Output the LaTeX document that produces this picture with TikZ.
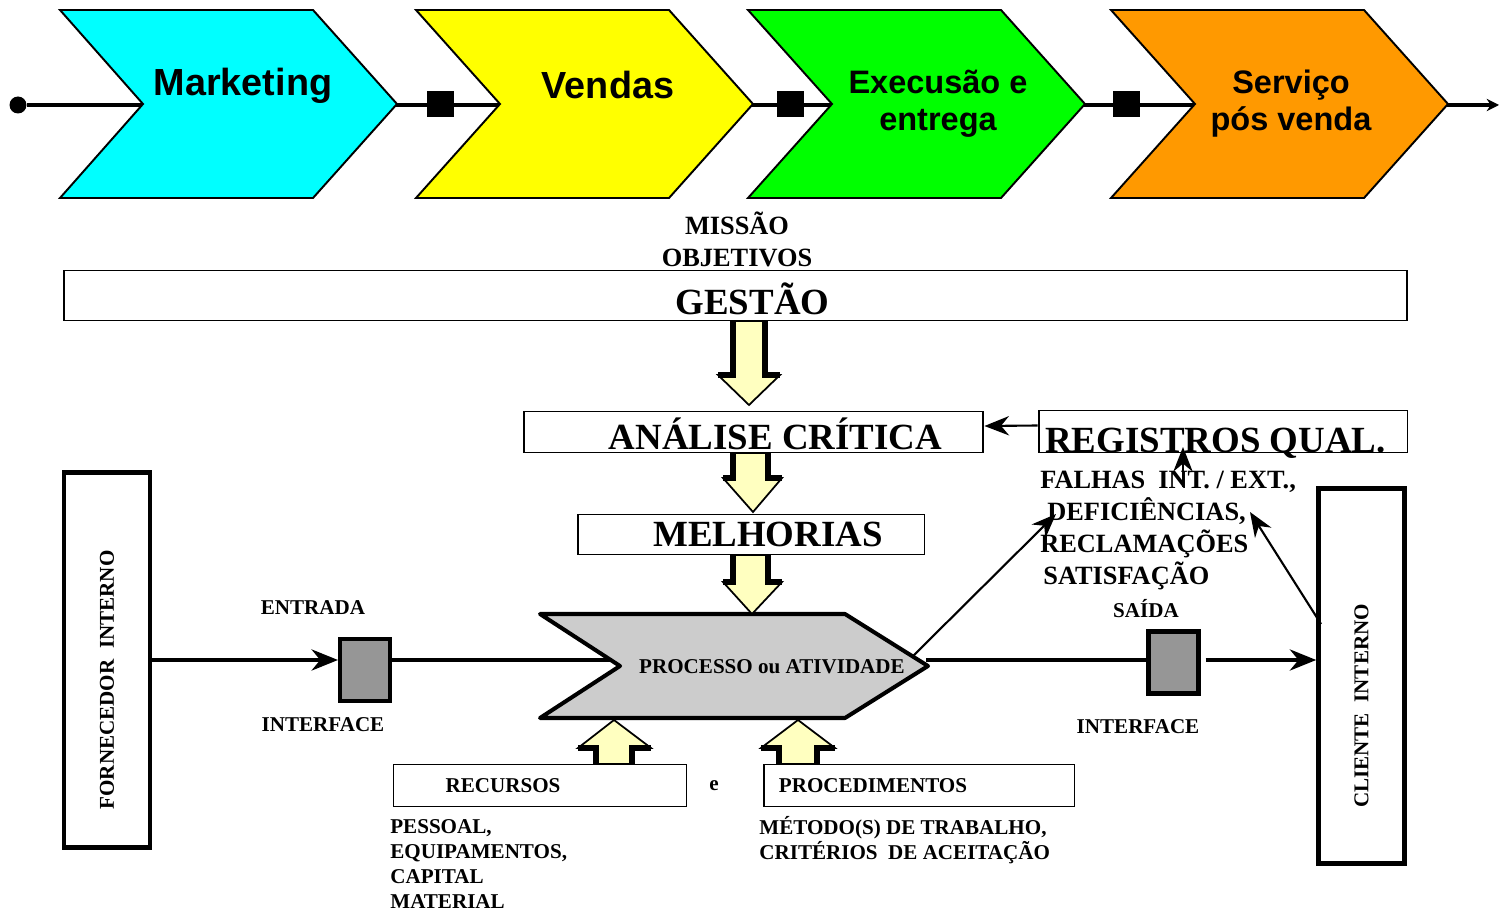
\documentclass[tikz,border=0pt]{standalone}
\usepackage{fontspec}
\setmainfont{Liberation Serif}
\newfontfamily\chevfont{Liberation Sans}
\usetikzlibrary{positioning}
\usetikzlibrary{calc}
\usetikzlibrary{arrows.meta}

\definecolor{chevcyan}{RGB}{0,255,255}
\definecolor{chevyellow}{RGB}{255,255,0}
\definecolor{chevgreen}{RGB}{0,255,0}
\definecolor{chevorange}{RGB}{255,153,0}
\definecolor{paleyellow}{RGB}{255,255,192}
\definecolor{procgray}{RGB}{204,204,204}
\definecolor{ifacegray}{RGB}{150,150,150}

\begin{document}
\begin{tikzpicture}
            [
                x=0.02cm, y=-0.02cm,
                chevron/.style={draw, line width=1.1pt, line join=miter},
                chevtext/.style={font=\chevfont\bfseries\fontsize{21.5}{21}\selectfont, align=center},
                chevsmall/.style={font=\chevfont\bfseries\fontsize{18.5}{21}\selectfont, align=center},
                gate/.style={rectangle, fill=black, minimum size=0.54cm, inner sep=0},
                bigbox/.style={rectangle, draw, line width=1.1pt, inner sep=0, text depth=0cm, font=\bfseries\fontsize{21}{24}\selectfont},
                smallbox/.style={rectangle, draw, line width=1.1pt, inner sep=0, font=\bfseries\fontsize{12}{14}\selectfont},
                sidebox/.style={rectangle, draw, line width=2.6pt, inner sep=0, rotate=90, minimum width=7.5cm, minimum height=1.72cm, font=\bfseries\fontsize{12}{14}\selectfont},
                iface/.style={rectangle, draw, line width=2.3pt, fill=ifacegray, minimum width=1.0cm, minimum height=1.24cm},
                lbl/.style={font=\bfseries\fontsize{12}{14.2}\selectfont, align=left, inner sep=0},
                note/.style={font=\bfseries\fontsize{15}{18.2}\selectfont, align=left, inner sep=0},
                flow/.style={line width=2.3pt, -{Stealth[length=15pt,width=12pt]}},
                conn/.style={line width=1.2pt, -{Stealth[length=14pt,width=11pt]}},
                blockarrow/.style={draw, line width=1pt, fill=paleyellow, line join=miter},
                shoulder/.style={line width=3.5pt}
            ]
            \useasboundingbox (0,0) rectangle (1499,912);
            %value chain
            \node[circle, fill=black, minimum size=0.34cm, inner sep=0] (start) at (18,105) {};
            \coordinate (finish) at (1499,105);
            \draw[line width=2pt, -{Stealth[length=7pt,width=7pt]}] (start) -- (finish);
            \draw[chevron, fill=chevcyan]   (60,10) -- (313,10) -- (397,104) -- (313,198) -- (60,198) -- (143,104) -- cycle;
            \draw[chevron, fill=chevyellow] (416,10) -- (669,10) -- (753,104) -- (669,198) -- (416,198) -- (500,104) -- cycle;
            \draw[chevron, fill=chevgreen]  (748,10) -- (1001,10) -- (1085,104) -- (1001,198) -- (748,198) -- (832,104) -- cycle;
            \draw[chevron, fill=chevorange] (1111,10) -- (1364,10) -- (1448,104) -- (1364,198) -- (1111,198) -- (1195,104) -- cycle;
            \node[gate] (gate_vendas)    at (440,104)  {};
            \node[gate] (gate_execucao)  at (790,104)  {};
            \node[gate] (gate_servico)   at (1126,104) {};
            \node[chevtext]  (marketing) at (243,86)   {Marketing};
            \node[chevtext]  (vendas)    at (608,85)   {Vendas};
            \node[chevsmall] (execucao)  at (938,104)  {Execusão e\\entrega};
            \node[chevsmall] (servico)   at (1291,104) {Serviço\\pós venda};
            %nodes
            \node[note, align=center] (missao) at (737,239) {MISSÃO\\OBJETIVOS};
            \node[bigbox, text height=0.78cm, minimum width=26.86cm, minimum height=1.0cm] (gestao) at (735.5,295.5) {\hspace*{0.68cm}GESTÃO};
            \node[bigbox, text height=0.72cm, minimum width=9.2cm, minimum height=0.82cm] (analise) at (753.5,432) {\hspace*{0.88cm}ANÁLISE CRÍTICA};
            \node[bigbox, text height=0.5cm, minimum width=6.94cm, minimum height=0.8cm] (melhorias) at (751,534.5) {\hspace*{0.68cm}MELHORIAS};
            \node[bigbox, text height=0.84cm, minimum width=7.38cm, minimum height=0.84cm] (registros) at (1223,431.5) {REGISTROS QUAL.\hspace*{0.3cm}};
            \node[note, anchor=north west] (falhas) at (1040,471) {FALHAS\ \ INT. / EXT.,\\\hspace*{0.14cm}DEFICIÊNCIAS,\\RECLAMAÇÕES\\\hspace*{0.06cm}SATISFAÇÃO};
            \node[sidebox] (fornecedor) at (107,660) {FORNECEDOR\ \ INTERNO\hspace*{0.8cm}};
            \node[sidebox] (cliente) at (1361.5,676) {CLIENTE\ \ INTERNO\hspace*{1.2cm}};
            \node[iface] (iface_in)  at (365,670)      {};
            \node[iface] (iface_out) at (1173.5,662.5) {};
            \node[lbl] (entrada)       at (313,608)  {ENTRADA};
            \node[lbl] (interface_in)  at (323,725)  {INTERFACE};
            \node[lbl] (saida)         at (1146,609) {SAÍDA};
            \node[lbl] (interface_out) at (1138,727) {INTERFACE};
            \node[smallbox, minimum width=5.86cm, minimum height=0.84cm] (recursos) at (540,785.5) {RECURSOS\hspace*{1.48cm}};
            \node[smallbox, minimum width=6.22cm, minimum height=0.84cm] (procedimentos) at (919,785.5) {PROCEDIMENTOS\hspace*{1.84cm}};
            \node[lbl] (e) at (714,786) {e};
            \node[lbl, anchor=north west] (pessoal) at (390,819) {PESSOAL,\\EQUIPAMENTOS,\\CAPITAL\\MATERIAL};
            \node[lbl, anchor=north west] (metodo) at (759,816) {MÉTODO(S) DE TRABALHO,\\CRITÉRIOS\ \ DE ACEITAÇÃO};
            \coordinate (proc_in)      at (620,660);
            \coordinate (proc_out)     at (926,660);
            \coordinate (proc_up)      at (913,656);
            \coordinate (falhas_in)    at (1056,514);
            \coordinate (cliente_up)   at (1321,624);
            \coordinate (falhas_out)   at (1250,512);
            \coordinate (falhas_tick)  at (1183,487);
            \coordinate (registros_tick) at (1183,447);
            %main flow
            \draw[flow] (fornecedor) -- (iface_in.west |- fornecedor);
            \draw[line width=2.3pt] (iface_in.east |- fornecedor) -- (proc_in);
            \draw[line width=2.3pt] (proc_out) -- (iface_out.west |- proc_out);
            \draw[flow, shorten <=0.1cm] (iface_out.east |- proc_out) -- (cliente.north |- proc_out);
            \draw[line width=2.3pt, fill=procgray, line join=round] (540,614) -- (845,614) -- (928,666) -- (845,718) -- (540,718) -- (620,666) -- cycle;
            \node[lbl] (processo) at (772,667) {PROCESSO ou ATIVIDADE};
            %arrows
            \draw[conn] (proc_up) -- (falhas_in);
            \draw[conn] (cliente_up) -- (falhas_out);
            \draw[conn] (falhas_tick) -- (registros_tick);
            \draw[conn] ([yshift=0.12cm]registros.west) -- ([yshift=0.12cm]analise.east);
            %block arrows
            \draw[blockarrow] (733,321) -- (765,321) -- (765,375) -- (780,375) -- (749,405) -- (718,375) -- (733,375) -- cycle;
            \draw[shoulder] (733,321) -- (733,375) -- (718,375);
            \draw[shoulder] (765,321) -- (765,375) -- (780,375);
            \draw[blockarrow] (733,453) -- (768,453) -- (768,478) -- (782,478) -- (753,512) -- (723,478) -- (733,478) -- cycle;
            \draw[shoulder] (733,453) -- (733,478) -- (723,478);
            \draw[shoulder] (768,453) -- (768,478) -- (782,478);
            \draw[blockarrow] (733,555) -- (768,555) -- (768,582) -- (782,582) -- (752,614) -- (723,582) -- (733,582) -- cycle;
            \draw[shoulder] (733,555) -- (733,582) -- (723,582);
            \draw[shoulder] (768,555) -- (768,582) -- (782,582);
            \draw[blockarrow] (596,764) -- (596,748) -- (578,748) -- (614,720) -- (651,748) -- (632,748) -- (632,764) -- cycle;
            \draw[shoulder] (596,764) -- (596,748) -- (578,748);
            \draw[shoulder] (632,764) -- (632,748) -- (651,748);
            \draw[blockarrow] (779,764) -- (779,748) -- (761,748) -- (798,720) -- (835,748) -- (817,748) -- (817,764) -- cycle;
            \draw[shoulder] (779,764) -- (779,748) -- (761,748);
            \draw[shoulder] (817,764) -- (817,748) -- (835,748);
        \end{tikzpicture}
\end{document}
